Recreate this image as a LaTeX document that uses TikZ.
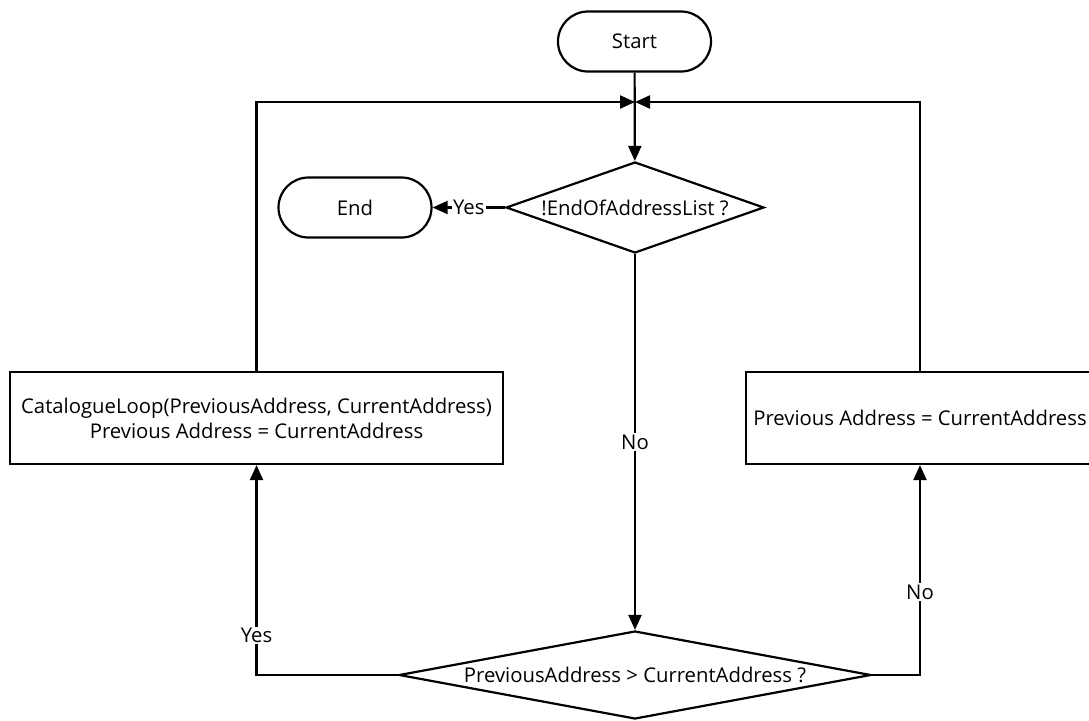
\documentclass[tikz,border=0pt]{standalone}
\usepackage{fontspec}
\setmainfont{Open Sans}
\usetikzlibrary{shapes.geometric,shapes.misc,arrows.meta}
\begin{document}
\begin{tikzpicture}[x=1pt,y=-1pt,
  every node/.style={font=\fontsize{20.3}{25}\selectfont},
  flow/.style={line width=2.2pt,-{Triangle[length=15pt,width=13pt]}},
  terminal/.style={draw,line width=2.2pt,rounded rectangle,minimum width=153pt,minimum height=60pt,inner sep=0pt},
  process/.style={draw,line width=2.2pt,rectangle,minimum height=92pt,inner sep=0pt,align=center},
  decision/.style={draw,line width=2.2pt,diamond,inner sep=0pt},
  tag/.style={fill=white,inner sep=1.5pt}
]
\useasboundingbox (0,0) rectangle (1089,720);
% terminals
\node[terminal] (start) at (634.5,41.5) {Start};
\node[terminal] (end) at (355,207.5) {End};
% decisions
\node[decision,minimum width=258pt,minimum height=91pt,aspect=2.8] (d1) at (635,207.5) {!EndOfAddressList ?};
\node[decision,minimum width=472pt,minimum height=88pt,aspect=5.3] (d2) at (635,675) {PreviousAddress > CurrentAddress ?};
% processes
\node[process,minimum width=493pt] (lbox) at (256.5,418) {CatalogueLoop(PreviousAddress, CurrentAddress)\\Previous Address = CurrentAddress};
\node[process,minimum width=348pt] (rbox) at (920,418) {Previous Address = CurrentAddress};
% merge point above the first decision
\coordinate (m) at (635,102);
% connectors
\draw[flow] (start) -- (d1);
\draw[flow] (d1.west) -- node[tag] (yes1) {Yes} (end.east);
\draw[flow] (d1.south) -- node[tag,pos=0.5] (no1) {No} (d2.north);
\draw[flow] (d2.west) -| node[tag,pos=0.594] (yes2) {Yes} (lbox.south);
\draw[flow] (d2.east) -| node[tag,pos=0.697] (no2) {No} (rbox.south);
\draw[flow] (lbox.north) |- (m);
\draw[flow] (rbox.north) |- (m);
\end{tikzpicture}
\end{document}
